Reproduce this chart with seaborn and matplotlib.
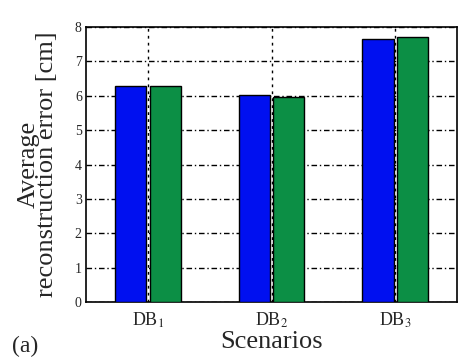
import matplotlib
matplotlib.use("Agg")
import matplotlib.pyplot as plt
import seaborn as sns
import pandas as pd

categories = ["DB$_1$", "DB$_2$", "DB$_3$"]
series_names = ["Method A", "Method B"]
series_a = [6.27, 6.02, 7.66]
series_b = [6.27, 5.97, 7.70]

df = pd.DataFrame({
    "Scenario": categories * 2,
    "Method": [series_names[0]] * 3 + [series_names[1]] * 3,
    "Error": series_a + series_b,
})

sns.set_style("white")
plt.rcParams['font.family'] = ['Liberation Serif', 'DejaVu Serif']
plt.rcParams['mathtext.fontset'] = 'stix'

fig = plt.figure(figsize=(4.65, 3.58), dpi=100)
ax = fig.add_axes([0.185, 0.156, 0.798, 0.769])

sns.barplot(data=df, x="Scenario", y="Error", hue="Method",
            palette=["#0010f0", "#0c8f45"], width=0.56, gap=0.1,
            edgecolor="black", linewidth=1.0, saturation=1, ax=ax,
            legend=False, zorder=3)

ax.set_xlim(-0.5, 2.5)
ax.set_ylim(0, 8)
ax.set_yticks(range(0, 9))
ax.set_axisbelow(True)
ax.yaxis.grid(True, color="black", linestyle=(0, (4, 2, 1, 2)), linewidth=1.0)
ax.xaxis.grid(True, color="black", linestyle=(0, (2, 3)), linewidth=1.0)
for s in ax.spines.values():
    s.set_color("black")
    s.set_linewidth(1.2)
ax.tick_params(axis="y", labelsize=10, length=0, pad=3)
ax.tick_params(axis="x", labelsize=13, length=0, pad=6)
ax.set_xlabel("Scenarios", fontsize=19, labelpad=1)
ax.set_ylabel("Average\nreconstruction error [cm]", fontsize=19, linespacing=0.78, labelpad=12)
fig.text(0.025, 0.018, "(a)", fontsize=17)

fig.savefig("out.png", dpi=100)
